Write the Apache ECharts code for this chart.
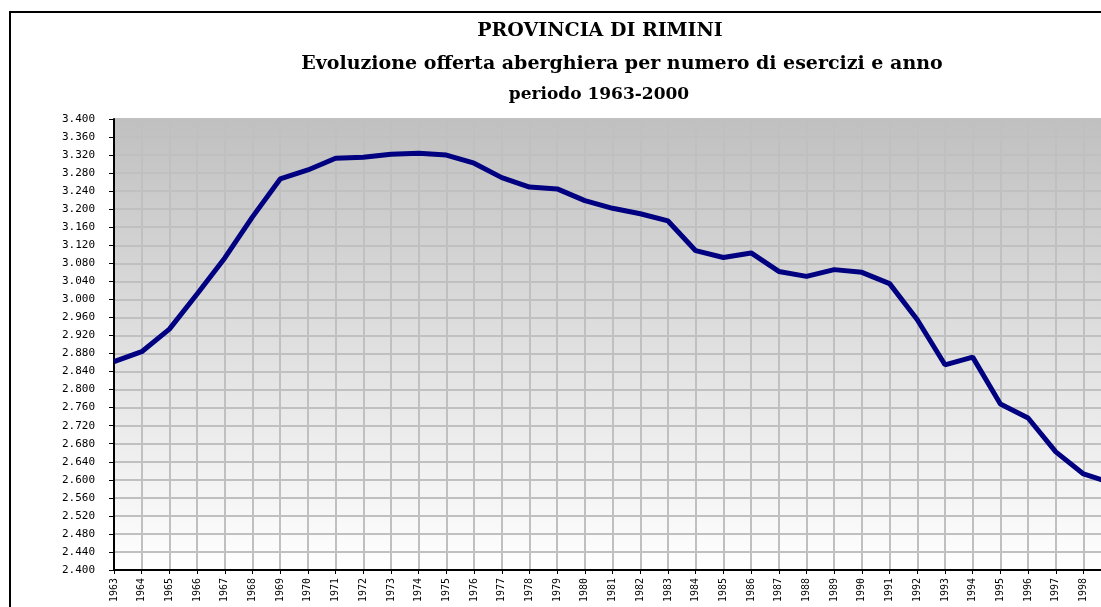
<!DOCTYPE html>
<html>
<head>
<meta charset="utf-8">
<script src="https://cdn.jsdelivr.net/npm/echarts@6/dist/echarts.min.js"></script>
<style>
  html, body { margin: 0; padding: 0; background: #fff; overflow: hidden; }
  /* the reference is a crop: the plot runs past the right edge of the window */
  #chart { width: 1160px; height: 607px; }
</style>
</head>
<body>
<div id="chart"></div>
<script>
// categories (years) and number of hotels
const years = ["1963", "1964", "1965", "1966", "1967", "1968", "1969", "1970", "1971", "1972",
               "1973", "1974", "1975", "1976", "1977", "1978", "1979", "1980", "1981", "1982",
               "1983", "1984", "1985", "1986", "1987", "1988", "1989", "1990", "1991", "1992",
               "1993", "1994", "1995", "1996", "1997", "1998", "1999", "2000"];
const esercizi = [2862, 2884, 2934, 3012, 3092, 3183, 3267, 3287, 3313, 3315,
                  3322, 3324, 3320, 3302, 3270, 3249, 3245, 3219, 3202, 3190,
                  3174, 3108, 3093, 3103, 3062, 3051, 3066, 3060, 3035, 2955,
                  2855, 2872, 2768, 2737, 2662, 2613, 2593, 2585];

const titleLines = ["PROVINCIA DI RIMINI",
                    "Evoluzione offerta aberghiera per numero di esercizi e anno",
                    "periodo 1963-2000"];

const y_min = 2400, y_max = 3400, y_step = 40;

function dotThousands(v){
    const k = Math.floor(v / 1000);
    return k + "." + String(v % 1000).padStart(3, "0");
}

const chart = echarts.init(document.getElementById("chart"), null, { renderer: "canvas" });

const serif = "'DejaVu Serif', 'Liberation Serif', serif";
const mono = "'DejaVu Sans Mono', monospace";

chart.setOption({
    animation: false,
    backgroundColor: "#ffffff",
    graphic: [
        // outer chart frame (only top and left edges are inside the crop)
        { type: "rect", shape: { x: 10, y: 12, width: 1300, height: 800 },
          style: { fill: "none", stroke: "#000", lineWidth: 2 }, z: 10 },
        { type: "text", x: 600, y: 31, style: { text: titleLines[0], textAlign: "center", textVerticalAlign: "middle",
          font: "bold 19px " + serif, fill: "#000" } },
        { type: "text", x: 622, y: 64, style: { text: titleLines[1], textAlign: "center", textVerticalAlign: "middle",
          font: "bold 19px " + serif, fill: "#000" } },
        { type: "text", x: 599, y: 95, style: { text: titleLines[2], textAlign: "center", textVerticalAlign: "middle",
          font: "bold 17px " + serif, fill: "#000" } }
    ],
    grid: {
        left: 114, top: 119, width: 37 * 27.7, height: 451,
        show: true,
        borderColor: "#808080", borderWidth: 1,
        backgroundColor: new echarts.graphic.LinearGradient(0, 0, 0, 1, [
            { offset: 0, color: "#c0c0c0" },
            { offset: 1, color: "#ffffff" }
        ])
    },
    xAxis: {
        type: "category",
        data: years,
        boundaryGap: false,
        axisLine: { lineStyle: { color: "#000", width: 2 } },
        axisTick: { show: true, length: 4, interval: 0, lineStyle: { color: "#000" } },
        axisLabel: { interval: 0, rotate: 90, margin: 8, color: "#000",
                     fontFamily: mono, fontSize: 10 },
        splitLine: { show: true, interval: 0, lineStyle: { color: "#c0c0c0", width: 2 } }
    },
    yAxis: {
        type: "value",
        min: y_min, max: y_max, interval: y_step,
        axisLine: { show: true, lineStyle: { color: "#000", width: 2 } },
        axisTick: { show: true, length: 5, lineStyle: { color: "#000" } },
        axisLabel: { formatter: dotThousands, margin: 19, color: "#000",
                     fontFamily: mono, fontSize: 11 },
        splitLine: { show: true, lineStyle: { color: "#c0c0c0", width: 2 } }
    },
    series: [{
        type: "line",
        name: "Esercizi",
        data: esercizi,
        showSymbol: false,
        symbol: "none",
        smooth: false,
        lineStyle: { color: "#000080", width: 5 },
        z: 5
    }]
});
</script>
</body>
</html>
